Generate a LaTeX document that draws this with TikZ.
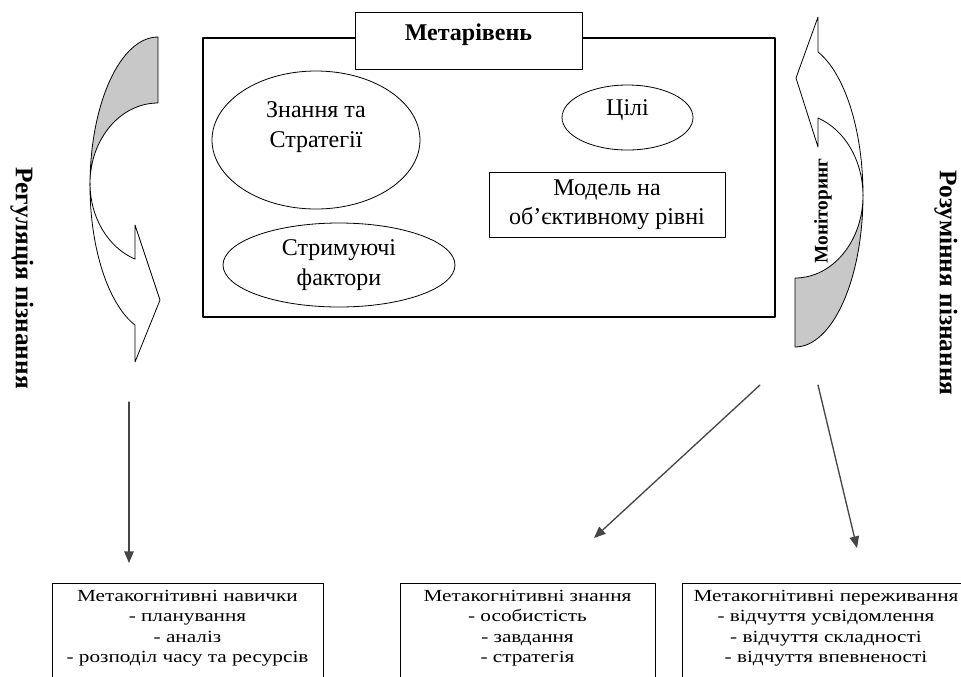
\documentclass[tikz,border=0pt]{standalone}
\usepackage{fontspec}
\setmainfont{Liberation Serif}
\newfontfamily\widefont[FakeStretch=1.25]{Liberation Serif}
\usetikzlibrary{arrows}
\usetikzlibrary{positioning}
\usetikzlibrary{shapes.geometric}
\definecolor{backgray}{RGB}{200,200,200}
\definecolor{darkline}{RGB}{70,70,70}
\begin{document}
\begin{tikzpicture}[line cap=round,line join=round,>=triangle 45,x=0.75pt,y=0.75pt,
  oval/.style={draw,ellipse,inner sep=0pt,line width=0.6pt,align=center,font=\fontsize{18}{23}\selectfont},
  frame/.style={draw,rectangle,inner sep=0pt,line width=0.7pt,align=center,font=\fontsize{18}{22}\selectfont},
  listbox/.style={draw,rectangle,anchor=north,line width=0.7pt,inner xsep=3pt,inner ysep=5pt,align=center,font=\widefont\fontsize{12.75}{15.4}\selectfont},
  sidetext/.style={rotate=-90,font=\bfseries\fontsize{19}{22}\selectfont},
  band/.style={line width=0.6pt,draw=black}]
\useasboundingbox (0,0) rectangle (961,-676);
\clip (0,0) rectangle (961,-676);
\node[draw,line width=0.8pt,inner sep=0pt,minimum width=429pt,minimum height=209.25pt] (meta) at (489,-177.5) {};
\node[frame,fill=white,minimum width=170.25pt,minimum height=42.75pt,text height=12pt,text depth=12pt,font=\bfseries\fontsize{18}{22}\selectfont] (metatitle) at (468.5,-40.5) {Метарівень};
\node[oval,minimum width=156pt,minimum height=103.5pt] (knowledge) at (316,-140) {Знання та\\Стратегії\\\mbox{}};
\node[oval,minimum width=174pt,minimum height=63pt] (restrain) at (339,-265) {Стримуючі\\фактори};
\node[oval,minimum width=98.25pt,minimum height=48.75pt,text height=12pt,text depth=15pt] (goals) at (627.5,-117.5) {Цілі};
\node[frame,minimum width=177pt,minimum height=48.75pt] (model) at (607,-204.5) {Модель на\\об’єктивному рівні};
\filldraw[band,fill=backgray] (158,-37) arc[start angle=90,end angle=180,x radius=68,y radius=148.4] -- (90,-183.4) arc[start angle=180,end angle=90,x radius=68,y radius=80.4] -- cycle;
\filldraw[band,fill=white] (90,-185.4) arc[start angle=180,end angle=250.3,x radius=68,y radius=148.4] -- (135,-362) -- (160,-300) -- (135,-225) -- (135.1,-259.1) arc[start angle=250.3,end angle=180,x radius=68,y radius=80.4] -- cycle;
\filldraw[band,fill=backgray] (795,-347) arc[start angle=270,end angle=360,x radius=68,y radius=152] -- (863,-195.6) arc[start angle=360,end angle=270,x radius=68,y radius=82.4] -- cycle;
\filldraw[band,fill=white] (863,-195) arc[start angle=0,end angle=70.3,x radius=68,y radius=152] -- (818,-17) -- (796,-78) -- (818,-147) -- (817.9,-118) arc[start angle=70.3,end angle=0,x radius=68,y radius=82.4] -- cycle;
\node[rotate=90,font=\bfseries\fontsize{14.5}{16}\selectfont] (monitor) at (823,-211) {Моніторинг};
\node[sidetext] (regulation) at (22,-278) {Регуляція пізнання};
\node[sidetext] (understanding) at (946,-283) {Розуміння пізнання};
\node[listbox,minimum width=203.25pt] (skills) at (187.5,-583) {Метакогнітивні навички\\- планування\\- аналіз\\- розподіл часу та ресурсів\\\mbox{}};
\node[listbox,minimum width=191.25pt] (knowl) at (527.5,-583) {Метакогнітивні знання\\- особистість\\- завдання\\- стратегія\\\mbox{}};
\node[listbox,minimum width=216pt] (experience) at (826,-583) {Метакогнітивні переживання\\- відчуття усвідомлення\\- відчуття складності\\- відчуття впевненості\\\mbox{}};
\coordinate (regstart) at (129,-402);
\coordinate (regend) at (129,-563);
\coordinate (knowstart) at (760,-385);
\coordinate (knowend) at (594,-538);
\coordinate (expstart) at (818,-385);
\coordinate (expend) at (857,-548);
\draw[->,color=darkline,line width=1pt] (regstart) -- (regend);
\draw[->,color=darkline,line width=1pt] (knowstart) -- (knowend);
\draw[->,color=darkline,line width=1pt] (expstart) -- (expend);
\end{tikzpicture}
\end{document}
